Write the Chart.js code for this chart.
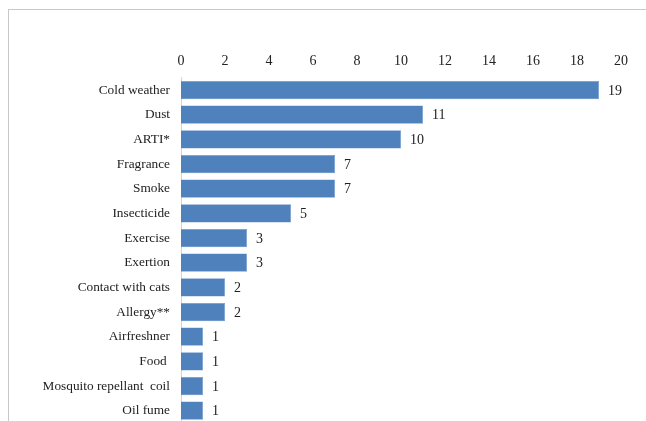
<!DOCTYPE html>
<html>
<head>
<meta charset="utf-8">
<script src="https://cdn.jsdelivr.net/npm/chart.js@4/dist/chart.umd.min.js"></script>
<style>
  html, body { margin: 0; padding: 0; background: #fff; overflow: hidden; }
  #frame {
    position: absolute; left: 8px; top: 9px; width: 700px; height: 500px;
    border: 1px solid #c8c8c8; box-sizing: border-box;
  }
  #wrap { position: absolute; left: 0; top: 0; width: 646px; height: 421px; overflow: hidden; }
</style>
</head>
<body>
<div id="frame"></div>
<div id="wrap"><canvas id="chart" width="646" height="442"></canvas></div>
<script>
// ---------- DATA ----------
const triggers = [
  "Cold weather", "Dust", "ARTI*", "Fragrance", "Smoke", "Insecticide",
  "Exercise", "Exertion", "Contact with cats", "Allergy**", "Airfreshner",
  "Food ", "Mosquito repellant  coil", "Oil fume"
];
const counts = [19, 11, 10, 7, 7, 5, 3, 3, 2, 2, 1, 1, 1, 1];
const xTicks = [0, 2, 4, 6, 8, 10, 12, 14, 16, 18, 20];

const FONT = "'Liberation Serif', 'Times New Roman', serif";

// value labels at bar ends
const valueLabels = {
  id: "valueLabels",
  afterDatasetsDraw(chart) {
    const ctx = chart.ctx;
    const meta = chart.getDatasetMeta(0);
    ctx.save();
    ctx.font = "14px " + FONT;
    ctx.fillStyle = "#222";
    ctx.textAlign = "left";
    ctx.textBaseline = "middle";
    meta.data.forEach((bar, i) => {
      ctx.fillText(String(counts[i]), bar.x + 9, bar.y + 1);
    });
    ctx.restore();
  }
};

new Chart(document.getElementById("chart"), {
  type: "bar",
  data: {
    labels: triggers,
    datasets: [{
      data: counts,
      backgroundColor: "#4F81BD",
      borderColor: "#6a95c8",
      borderWidth: 0.5,
      categoryPercentage: 0.74,
      barPercentage: 1
    }]
  },
  options: {
    indexAxis: "y",
    responsive: false,
    animation: false,
    devicePixelRatio: 1,
    layout: { padding: { left: 0, right: 25, top: 0, bottom: 0 } },
    plugins: { legend: { display: false }, tooltip: { enabled: false } },
    scales: {
      x: {
        position: "top",
        min: 0, max: 20,
        afterBuildTicks: axis => { axis.ticks = xTicks.map(v => ({ value: v })); },
        afterFit: axis => { axis.height = 77.7; },
        grid: { display: false, drawTicks: false },
        border: { display: false },
        ticks: { color: "#222", padding: 8, maxRotation: 0, autoSkip: false, font: { family: FONT, size: 14 } }
      },
      y: {
        afterFit: axis => { axis.width = 181; },
        grid: { display: false, drawTicks: false },
        border: { display: true, color: "#d4d4d4", width: 1 },
        ticks: { color: "#222", padding: 11, autoSkip: false, font: { family: FONT, size: 13.3 } }
      }
    }
  },
  plugins: [valueLabels]
});
</script>
</body>
</html>
